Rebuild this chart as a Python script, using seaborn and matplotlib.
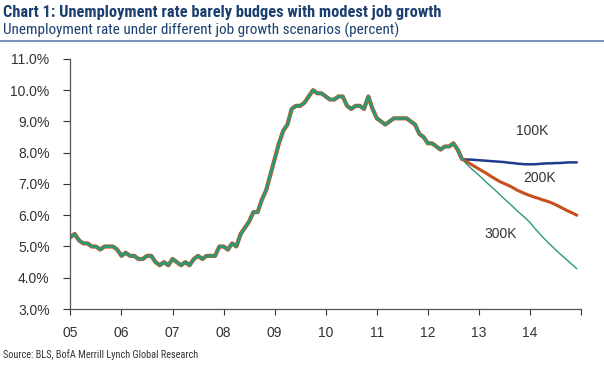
import numpy as np
import pandas as pd
import matplotlib.pyplot as plt
import seaborn as sns
from matplotlib import font_manager

# monthly unemployment rate, Jan 2005 - Sep 2012
hist_rate = [
    5.3, 5.4, 5.2, 5.1, 5.1, 5.0, 5.0, 4.9, 5.0, 5.0, 5.0, 4.9,   # 2005
    4.7, 4.8, 4.7, 4.7, 4.6, 4.6, 4.7, 4.7, 4.5, 4.4, 4.5, 4.4,   # 2006
    4.6, 4.5, 4.4, 4.5, 4.4, 4.6, 4.7, 4.6, 4.7, 4.7, 4.7, 5.0,   # 2007
    5.0, 4.9, 5.1, 5.0, 5.4, 5.6, 5.8, 6.1, 6.1, 6.5, 6.8, 7.3,   # 2008
    7.8, 8.3, 8.7, 8.9, 9.4, 9.5, 9.5, 9.6, 9.8, 10.0, 9.9, 9.9,  # 2009
    9.8, 9.7, 9.7, 9.8, 9.8, 9.5, 9.4, 9.5, 9.5, 9.4, 9.8, 9.4,   # 2010
    9.1, 9.0, 8.9, 9.0, 9.1, 9.1, 9.1, 9.1, 9.0, 8.9, 8.6, 8.5,   # 2011
    8.3, 8.3, 8.2, 8.1, 8.2, 8.2, 8.3, 8.1, 7.8,                  # 2012
]

# projections, Oct 2012 - Dec 2014
proj_100k = [7.78, 7.78, 7.77, 7.76, 7.75, 7.74, 7.73, 7.72, 7.71, 7.70,
             7.68, 7.67, 7.65, 7.64, 7.63, 7.63, 7.63, 7.64, 7.65, 7.66,
             7.66, 7.67, 7.67, 7.68, 7.69, 7.69, 7.69]
proj_200k = [7.72, 7.64, 7.56, 7.48, 7.40, 7.32, 7.23, 7.15, 7.07, 7.01,
             6.95, 6.88, 6.80, 6.74, 6.68, 6.63, 6.58, 6.54, 6.49, 6.45,
             6.40, 6.34, 6.27, 6.20, 6.13, 6.07, 6.00]
proj_300k = [7.65, 7.52, 7.40, 7.28, 7.15, 7.02, 6.90, 6.78, 6.65, 6.52,
             6.40, 6.27, 6.14, 6.02, 5.90, 5.77, 5.60, 5.45, 5.30, 5.16,
             5.03, 4.90, 4.77, 4.65, 4.53, 4.41, 4.29]

scenarios = ["100K", "200K", "300K"]
colors = {"100K": "#1f3d8c", "200K": "#c8501e", "300K": "#2a9a76"}
widths = {"100K": 1.8, "200K": 2.2, "300K": 1.0}
year_ticks = list(range(2005, 2016))
year_labels = ["05", "06", "07", "08", "09", "10", "11", "12", "13", "14", ""]
y_ticks = [3, 4, 5, 6, 7, 8, 9, 10, 11]

hist_dates = pd.date_range("2005-01-01", periods=len(hist_rate), freq="MS")
proj_dates = pd.date_range("2012-10-01", periods=len(proj_100k), freq="MS")


def frac_year(d):
    return d.year + (d.month - 1) / 12


def narrow_font(bold):
    # look for an installed narrow/condensed face, else plain Liberation Sans
    files = font_manager.findSystemFonts()
    wanted = ["LiberationSansNarrow", "RobotoCondensed", "DejaVuSansCondensed",
              "OpenSans_Condensed", "OpenSansCondensed"]
    for w in wanted:
        for f in files:
            base = f.split("/")[-1].replace("-", "").replace(" ", "")
            if not base.startswith(w.replace("-", "")):
                continue
            is_bold = "Bold" in base and "Italic" not in base and "Semi" not in base \
                and "Extra" not in base
            is_reg = "Regular" in base or base in (w + ".ttf",)
            if (bold and is_bold) or (not bold and is_reg):
                return font_manager.FontProperties(fname=f)
    return font_manager.FontProperties(family="Liberation Sans",
                                       weight="bold" if bold else "normal")


hist = pd.DataFrame({"x": frac_year(hist_dates), "rate": hist_rate})
frames = []
for name, vals in zip(scenarios, [proj_100k, proj_200k, proj_300k]):
    f = pd.DataFrame({"x": frac_year(proj_dates), "rate": vals})
    f = pd.concat([hist.tail(1), f])  # join to last actual point
    f["scenario"] = name
    frames.append(f)
proj = pd.concat(frames, ignore_index=True)

sns.set_style("white")
plt.rcParams["font.family"] = ["Liberation Sans", "DejaVu Sans"]

fig = plt.figure(figsize=(6.04, 3.66), dpi=100)
ax = fig.add_axes([0.1166, 0.1557, 0.962 - 0.1166, 0.839 - 0.1557])

for name in scenarios:
    sns.lineplot(data=proj[proj.scenario == name], x="x", y="rate",
                 color=colors[name], lw=widths[name], ax=ax)
sns.lineplot(data=hist, x="x", y="rate", color=colors["200K"], lw=3.0, ax=ax)
sns.lineplot(data=hist, x="x", y="rate", color=colors["300K"], lw=2.0, ax=ax)

ax.set_xlim(2005, 2015)
ax.set_ylim(3, 11)
ax.set_xticks(year_ticks)
ax.set_xticklabels(year_labels)
ax.set_yticks(y_ticks)
ax.set_yticklabels([f"{v:.1f}%" for v in y_ticks])
ax.set_xlabel("")
ax.set_ylabel("")
ax.tick_params(axis="both", labelsize=10, colors="#333333", length=5,
               width=0.8, direction="out", bottom=True, left=True)
ax.tick_params(axis="x", length=4, pad=8)
ax.tick_params(axis="y", pad=10)
for s in ["top", "right"]:
    ax.spines[s].set_visible(False)
for s in ["left", "bottom"]:
    ax.spines[s].set_color("#555555")
    ax.spines[s].set_linewidth(0.9)

ax.text(2014.04, 8.69, "100K", ha="center", va="center", fontsize=10, color="#333333")
ax.text(2014.18, 7.18, "200K", ha="center", va="center", fontsize=10, color="#333333")
ax.text(2013.42, 5.41, "300K", ha="center", va="center", fontsize=10, color="#333333")

bold_fp = narrow_font(True)
reg_fp = narrow_font(False)
t1 = fig.text(0.005, 1 - 12 / 366, "Chart 1: Unemployment rate barely budges with modest job growth",
              color="#1b3f6e", fontproperties=bold_fp, ha="left", va="center")
t1.set_fontsize(11.8)
t2 = fig.text(0.005, 1 - 30 / 366, "Unemployment rate under different job growth scenarios (percent)",
              color="#1b3f6e", fontproperties=reg_fp, ha="left", va="center")
t2.set_fontsize(10.9)
fig.add_artist(plt.Line2D([0, 1], [1 - 40.5 / 366] * 2, transform=fig.transFigure,
                          color="#5b7fb0", lw=1.2))
t3 = fig.text(0.005, 1 - 355 / 366, "Source: BLS, BofA Merrill Lynch Global Research",
              color="#333333", fontproperties=reg_fp, ha="left", va="center")
t3.set_fontsize(7.4)

fig.savefig("out.png", dpi=100)
